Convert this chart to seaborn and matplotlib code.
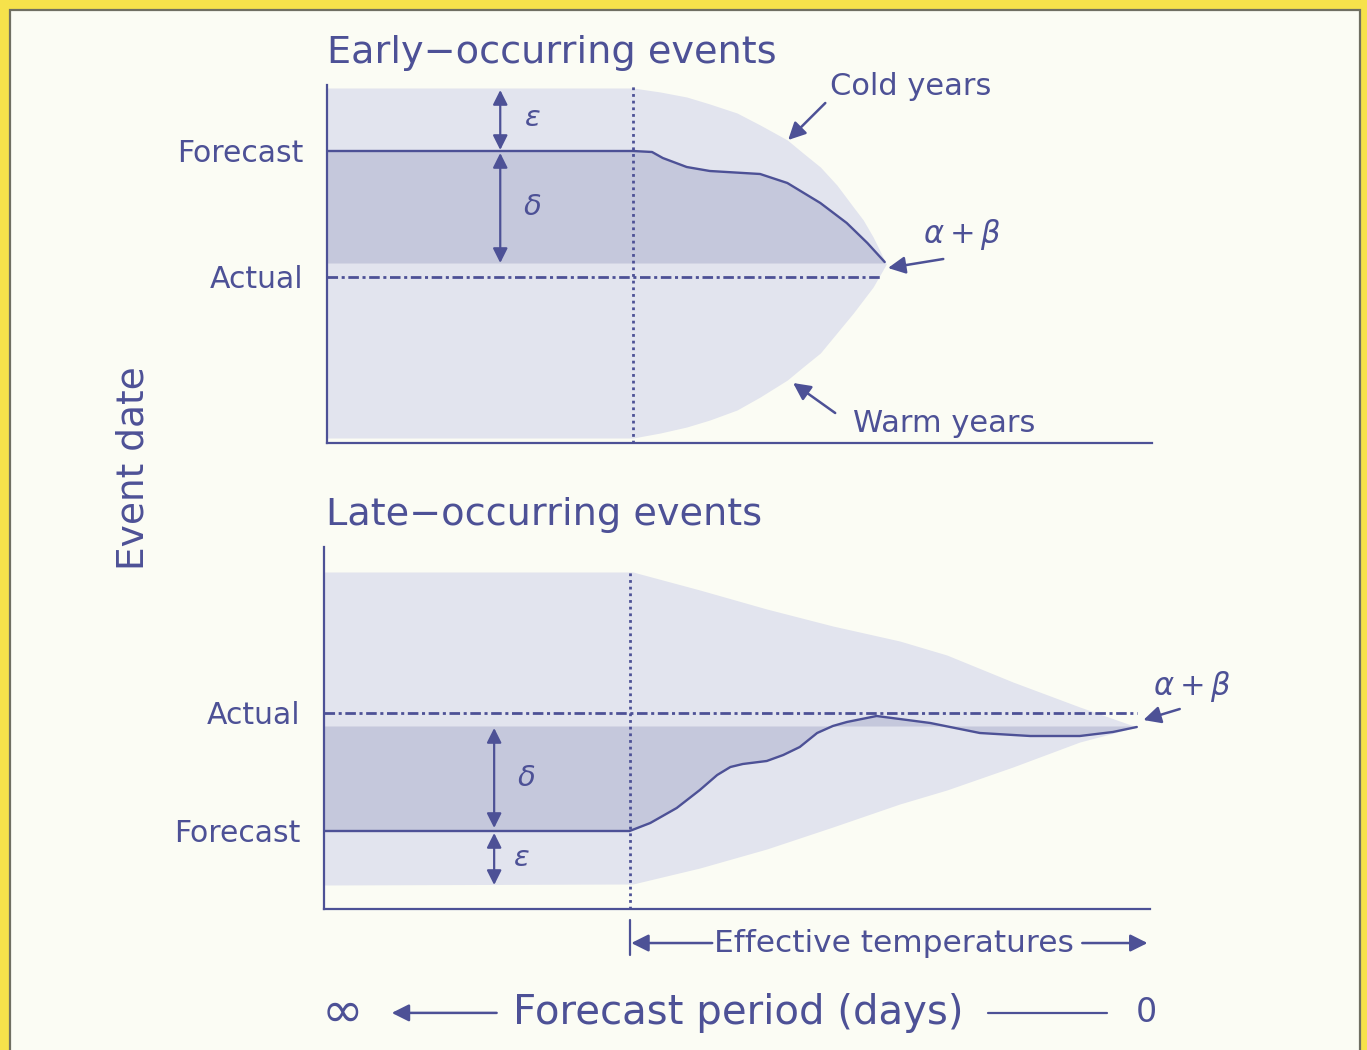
import matplotlib
matplotlib.use("Agg")
import matplotlib.pyplot as plt
from matplotlib.patches import Rectangle
from matplotlib.transforms import blended_transform_factory
import pandas as pd
import seaborn as sns

# ---------------------------------------------------------------------------
# Data
# x : position along the forecast period (0 = infinitely far, 100 = event day)
# y : event date, relative to the actual date (0)
# ---------------------------------------------------------------------------
EFFECTIVE_START = 37.1          # start of the effective-temperature period

# Early-occurring events
early_forecast = 12.6
early_band_low = 1.4
early_env_x = [0, 37.1, 40.4, 43.6, 46.4, 49.7, 52.5, 55.8, 57.7, 59.8,
               61.8, 63.8, 65.0, 66.2, 67.8]
early_env_upper = [18.9, 18.9, 18.5, 18.0, 17.3, 16.4, 15.2, 13.7, 12.4, 11.0,
                   9.2, 7.0, 5.7, 4.0, 1.3]
early_env_lower = [-16.1, -16.1, -15.6, -15.0, -14.3, -13.3, -12.0, -10.3, -9.0, -7.6,
                   -5.6, -3.6, -2.3, -1.0, 1.3]
early_curve_x = [0, 37.1, 39.4, 40.7, 43.6, 46.4, 52.5, 55.8, 59.8, 63.0, 65.5, 67.6]
early_curve_y = [12.6, 12.6, 12.5, 11.9, 11.0, 10.6, 10.3, 9.4, 7.4, 5.4, 3.4, 1.5]
early_actual_end = 67.3

# Late-occurring events
late_forecast = -11.8
late_band_high = -1.3
late_env_x = [0, 37.4, 45.5, 53.6, 61.6, 69.7, 75.4, 83.4, 91.5, 98.4]
late_env_upper = [14.1, 14.1, 12.3, 10.4, 8.7, 7.2, 5.8, 3.1, 0.6, -1.4]
late_env_lower = [-17.2, -17.1, -15.5, -13.6, -11.4, -9.1, -7.7, -5.4, -2.9, -1.4]
late_curve_x = [0, 37.0, 39.5, 42.7, 45.5, 47.6, 49.2, 50.7, 53.6, 55.6, 57.6, 59.7,
                61.6, 63.3, 66.9, 69.7, 73.4, 79.4, 85.5, 91.5, 95.5, 98.4]
late_curve_y = [-11.8, -11.8, -11.0, -9.5, -7.7, -6.2, -5.4, -5.1, -4.8, -4.2, -3.4, -2.0,
                -1.3, -0.9, -0.3, -0.6, -1.0, -2.0, -2.3, -2.3, -1.9, -1.4]
late_actual_end = 98.4

# Colours
INK = "#4d5196"
LIGHT = "#e2e4ee"
DARK = "#c5c8dc"
CREAM = "#fbfcf4"
YELLOW = "#f6e24b"

W, H = 1367, 1050

sns.set_theme(style="white")
plt.rcParams["font.family"] = ["DejaVu Sans"]
plt.rcParams["mathtext.fontset"] = "dejavusans"

fig = plt.figure(figsize=(W / 100, H / 100), dpi=100, facecolor=YELLOW)
fig.add_artist(Rectangle((10 / W, -0.02), 1350 / W, 1 - 10 / H + 0.02,
                         transform=fig.transFigure, facecolor=CREAM,
                         edgecolor="#6f6f62", lw=1.6, zorder=-10))

ax_t = fig.add_axes([327 / W, 1 - 443 / H, 825 / W, 358 / H])
ax_b = fig.add_axes([324 / W, 1 - 909 / H, 826 / W, 362 / H])

for ax in (ax_t, ax_b):
    ax.set_facecolor("none")
    ax.set_xlim(0, 100)
    ax.set_xticks([])
    for side in ("top", "right"):
        ax.spines[side].set_visible(False)
    for side in ("left", "bottom"):
        ax.spines[side].set_color(INK)
        ax.spines[side].set_linewidth(1.6)
    ax.tick_params(axis="y", length=0, pad=17, labelsize=21.5, labelcolor=INK)

ax_t.set_ylim(-16.6, 19.2)
ax_b.set_ylim(-19.6, 16.6)

DASHDOT = (0, (3.8, 1.3, 1.1, 1.3))
DOTTED = (0, (1.0, 1.4))
ARROW = dict(arrowstyle="-|>", color=INK, lw=1.8, mutation_scale=26,
             shrinkA=0, shrinkB=0)
DOUBLE = dict(arrowstyle="<|-|>", color=INK, lw=1.6, mutation_scale=22,
              shrinkA=0, shrinkB=0)

# ----------------------------- Early panel ---------------------------------
ax_t.fill_between(early_env_x, early_env_lower, early_env_upper,
                  color=LIGHT, lw=0, zorder=1)
ax_t.fill_between(early_curve_x, early_band_low, early_curve_y,
                  color=DARK, lw=0, zorder=2)
ax_t.axvline(EFFECTIVE_START, color=INK, lw=2.0, ls=DOTTED, zorder=3)
sns.lineplot(x=[0, early_actual_end], y=[0, 0], ax=ax_t, color=INK, lw=2.0,
             linestyle=DASHDOT, zorder=3)
sns.lineplot(data=pd.DataFrame({"x": early_curve_x, "y": early_curve_y}),
             x="x", y="y", ax=ax_t, color=INK, lw=1.7, sort=False,
             estimator=None, zorder=4)
ax_t.set_yticks([early_forecast, 0], labels=["Forecast", "Actual"])
ax_t.set_xlabel("")
ax_t.set_ylabel("")

ax_t.annotate("", xy=(21.0, 18.7), xytext=(21.0, 12.7), arrowprops=DOUBLE, zorder=5)
ax_t.annotate("", xy=(21.0, 12.4), xytext=(21.0, early_band_low), arrowprops=DOUBLE, zorder=5)
ax_t.text(23.9, 15.9, r"$\varepsilon$", color=INK, fontsize=21, va="center")
ax_t.text(23.8, 7.0, r"$\delta$", color=INK, fontsize=21, va="center")

ax_t.text(61.0, 19.0, "Cold years", color=INK, fontsize=22, va="center", ha="left")
ax_t.annotate("", xy=(55.9, 13.7), xytext=(60.4, 17.4), arrowprops=ARROW)
ax_t.text(63.8, -14.7, "Warm years", color=INK, fontsize=22, va="center", ha="left")
ax_t.annotate("", xy=(56.5, -10.6), xytext=(61.6, -13.6), arrowprops=ARROW)
ax_t.text(72.3, 4.2, r"$\alpha+\beta$", color=INK, fontsize=22, va="center", ha="left")
ax_t.annotate("", xy=(68.0, 0.9), xytext=(74.7, 1.8), arrowprops=ARROW)

ax_t.text(0.0, 1.04, "Early\u2212occurring events", transform=ax_t.transAxes,
          color=INK, fontsize=27.5, ha="left", va="bottom")

# ----------------------------- Late panel ----------------------------------
ax_b.fill_between(late_env_x, late_env_lower, late_env_upper,
                  color=LIGHT, lw=0, zorder=1)
ax_b.fill_between(late_curve_x, late_curve_y, late_band_high,
                  color=DARK, lw=0, zorder=2)
ax_b.vlines(37.0, -19.6, 14.1, color=INK, lw=2.0, linestyles=[DOTTED], zorder=3)
sns.lineplot(x=[0, late_actual_end], y=[0, 0], ax=ax_b, color=INK, lw=2.0,
             linestyle=DASHDOT, zorder=3)
sns.lineplot(data=pd.DataFrame({"x": late_curve_x, "y": late_curve_y}),
             x="x", y="y", ax=ax_b, color=INK, lw=1.7, sort=False,
             estimator=None, zorder=4)
ax_b.set_yticks([0, late_forecast], labels=["Actual", "Forecast"])
ax_b.set_xlabel("")
ax_b.set_ylabel("")

ax_b.annotate("", xy=(20.6, -1.5), xytext=(20.6, -11.5), arrowprops=DOUBLE, zorder=5)
ax_b.annotate("", xy=(20.6, -12.0), xytext=(20.6, -17.2), arrowprops=DOUBLE, zorder=5)
ax_b.text(23.4, -6.5, r"$\delta$", color=INK, fontsize=21, va="center")
ax_b.text(22.9, -14.5, r"$\varepsilon$", color=INK, fontsize=21, va="center")

ax_b.text(100.4, 2.6, r"$\alpha+\beta$", color=INK, fontsize=22, va="center", ha="left")
ax_b.annotate("", xy=(99.2, -0.7), xytext=(103.6, 0.4), arrowprops=ARROW,
              annotation_clip=False)

ax_b.text(0.002, 1.04, "Late\u2212occurring events", transform=ax_b.transAxes,
          color=INK, fontsize=27.5, ha="left", va="bottom")

# Effective-temperature span and forecast-period axis under the late panel
tr = blended_transform_factory(ax_b.transData, ax_b.transAxes)
ax_b.plot([37.0, 37.0], [-0.030, -0.127], transform=tr, color=INK, lw=1.6,
          clip_on=False)
y_eff = -0.094
ax_b.annotate("", xy=(37.2, y_eff), xytext=(47.0, y_eff), xycoords=tr,
              textcoords=tr, arrowprops=ARROW, annotation_clip=False)
ax_b.text(47.2, y_eff, "Effective temperatures", transform=tr, color=INK,
          fontsize=22.5, ha="left", va="center")
ax_b.annotate("", xy=(99.7, y_eff), xytext=(91.8, y_eff), xycoords=tr,
              textcoords=tr, arrowprops=ARROW, annotation_clip=False)

y_fp = -0.287
ax_b.text(2.2, y_fp, "\u221e", transform=tr, color=INK, fontsize=36,
          ha="center", va="center")
ax_b.annotate("", xy=(8.2, y_fp), xytext=(20.9, y_fp), xycoords=tr,
              textcoords=tr, arrowprops=ARROW, annotation_clip=False)
ax_b.text(22.9, y_fp, "Forecast period (days)", transform=tr, color=INK,
          fontsize=29, ha="left", va="center")
ax_b.plot([80.4, 94.8], [y_fp, y_fp], transform=tr, color=INK, lw=1.6,
          clip_on=False)
ax_b.text(99.6, y_fp, "0", transform=tr, color=INK, fontsize=24,
          ha="center", va="center")

fig.text(133 / W, 1 - 468 / H, "Event date", rotation=90, color=INK,
         fontsize=27, ha="center", va="center")

fig.savefig("out.png", dpi=100, facecolor=YELLOW)
